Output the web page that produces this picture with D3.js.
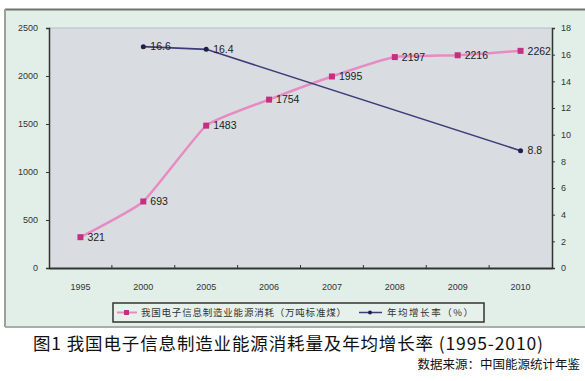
<!DOCTYPE html>
<html><head><meta charset="utf-8">
<script src="https://cdn.jsdelivr.net/npm/d3@7/dist/d3.min.js"></script>
<style>body{margin:0;background:#fff}svg{display:block}</style>
</head><body>
<svg id="c" width="585" height="381"></svg>
<script>
const years = ["1995","2000","2005","2006","2007","2008","2009","2010"];
const energy = [321, 693, 1483, 1754, 1995, 2197, 2216, 2262];
const growth = [null, 16.6, 16.4, null, null, null, null, 8.8];
const leftTicks = [0, 500, 1000, 1500, 2000, 2500];
const rightTicks = [0, 2, 4, 6, 8, 10, 12, 14, 16, 18];
const energyName = "我国电子信息制造业能源消耗（万吨标准煤）";
const growthName = "年均增长率（%）";
const title = "图1  我国电子信息制造业能源消耗量及年均增长率 (1995-2010)";
const source = "数据来源：中国能源统计年鉴";

const svg = d3.select("#c");
const font = "'Liberation Sans', Arial, sans-serif";
const cjk = "'Noto Sans CJK SC', sans-serif";
const L = 49, R = 552, T = 28, B = 268;

// outer chart frame
svg.append("rect").attr("x",5).attr("y",9).attr("width",580).attr("height",318).attr("fill","#e2efe8");
svg.append("line").attr("x1",5).attr("x2",585).attr("y1",9.5).attr("y2",9.5).attr("stroke","#6f7470").attr("stroke-width",2);
svg.append("line").attr("x1",5).attr("x2",5).attr("y1",9).attr("y2",327).attr("stroke","#9aa09c").attr("stroke-width",2);
svg.append("line").attr("x1",5).attr("x2",585).attr("y1",327).attr("y2",327).attr("stroke","#a9aeaa").attr("stroke-width",2);

// plot area
svg.append("rect").attr("x",L).attr("y",T).attr("width",R-L).attr("height",B-T).attr("fill","#d9dde1");
svg.append("line").attr("x1",L).attr("x2",R).attr("y1",T).attr("y2",T).attr("stroke","#b9bdc2");

const x = d3.scaleBand().domain(years).range([L, R]);
const yL = d3.scaleLinear().domain([0, 2500]).range([B, T]);
const yR = d3.scaleLinear().domain([0, 18]).range([B, T]);

const axL = svg.append("g").attr("transform",`translate(${L},0)`)
  .call(d3.axisLeft(yL).tickValues(leftTicks).tickSize(3).tickPadding(8).tickFormat(d3.format("d")));
const axR = svg.append("g").attr("transform",`translate(${R},0)`)
  .call(d3.axisRight(yR).tickValues(rightTicks).tickSize(3).tickPadding(6).tickFormat(d3.format("d")));
const axB = svg.append("g").attr("transform",`translate(0,${B})`)
  .call(d3.axisBottom(x).tickSize(0).tickPadding(16));
svg.append("g").selectAll("line").data(years.slice(1)).join("line")
  .attr("x1",d=>x(d)).attr("x2",d=>x(d)).attr("y1",B).attr("y2",B-3).attr("stroke","#333");
[axL, axR, axB].forEach(a=>{
  a.selectAll(".domain").attr("stroke","#333").attr("stroke-width",1.5);
  a.selectAll(".tick line").attr("stroke","#333");
  a.selectAll("text").attr("font-family",font).attr("font-size",9).attr("fill","#333");
});
axB.select(".domain").attr("stroke-width",2);

// energy series
const eData = years.map((y,i)=>({y, v: energy[i]}));
const pink = "#e78cc3", pinkM = "#c4307f";
svg.append("path").datum(eData)
  .attr("d", d3.line().x(d=>x(d.y)+x.bandwidth()/2).y(d=>yL(d.v)).curve(d3.curveCardinal.tension(0.6)))
  .attr("fill","none").attr("stroke",pink).attr("stroke-width",2.5);
svg.append("g").selectAll("rect").data(eData).join("rect")
  .attr("x",d=>x(d.y)+x.bandwidth()/2-3).attr("y",d=>yL(d.v)-3).attr("width",6).attr("height",6).attr("fill",pinkM);
svg.append("g").selectAll("text").data(eData).join("text")
  .attr("x",d=>x(d.y)+x.bandwidth()/2+7).attr("y",d=>yL(d.v)).attr("dy","0.35em")
  .attr("font-family",font).attr("font-size",10.5).attr("fill","#222").text(d=>d.v);

// growth series
const gData = years.map((y,i)=>({y, v: growth[i]})).filter(d=>d.v!=null);
const navy = "#3c3d78";
svg.append("path").datum(gData)
  .attr("d", d3.line().x(d=>x(d.y)+x.bandwidth()/2).y(d=>yR(d.v)))
  .attr("fill","none").attr("stroke",navy).attr("stroke-width",1.6);
svg.append("g").selectAll("circle").data(gData).join("circle")
  .attr("cx",d=>x(d.y)+x.bandwidth()/2).attr("cy",d=>yR(d.v)).attr("r",2.5).attr("fill","#1f1f4a");
svg.append("g").selectAll("text").data(gData).join("text")
  .attr("x",d=>x(d.y)+x.bandwidth()/2+7).attr("y",d=>yR(d.v)).attr("dy","0.35em")
  .attr("font-family",font).attr("font-size",10.5).attr("fill","#222").text(d=>d.v.toFixed(1));

// legend
const lg = svg.append("g");
lg.append("rect").attr("x",113).attr("y",303).attr("width",371).attr("height",19)
  .attr("fill","#e6f1eb").attr("stroke","#333").attr("stroke-width",1.5);
lg.append("line").attr("x1",117).attr("x2",137).attr("y1",312.5).attr("y2",312.5).attr("stroke",pink).attr("stroke-width",2);
lg.append("rect").attr("x",124).attr("y",310).attr("width",5).attr("height",5).attr("fill",pinkM);
lg.append("text").attr("x",141).attr("y",312.5).attr("dy","0.35em").attr("font-family",cjk)
  .attr("font-size",9.5).attr("fill","#333").attr("textLength",205).text(energyName);
lg.append("line").attr("x1",359).attr("x2",382).attr("y1",312.5).attr("y2",312.5).attr("stroke",navy).attr("stroke-width",1.5);
lg.append("circle").attr("cx",370).attr("cy",312.5).attr("r",2).attr("fill","#1f1f4a");
lg.append("text").attr("x",387).attr("y",312.5).attr("dy","0.35em").attr("font-family",cjk)
  .attr("font-size",9.5).attr("fill","#333").attr("textLength",86).text(growthName);

// title and source
svg.append("text").attr("x",33).attr("y",350).attr("font-family",cjk).attr("font-size",17.5)
  .attr("fill","#111").attr("textLength",510).attr("lengthAdjust","spacing").text(title);
svg.append("text").attr("x",580).attr("y",369).attr("text-anchor","end").attr("font-family",cjk)
  .attr("font-size",12.5).attr("fill","#111").text(source);
</script>
</body></html>
